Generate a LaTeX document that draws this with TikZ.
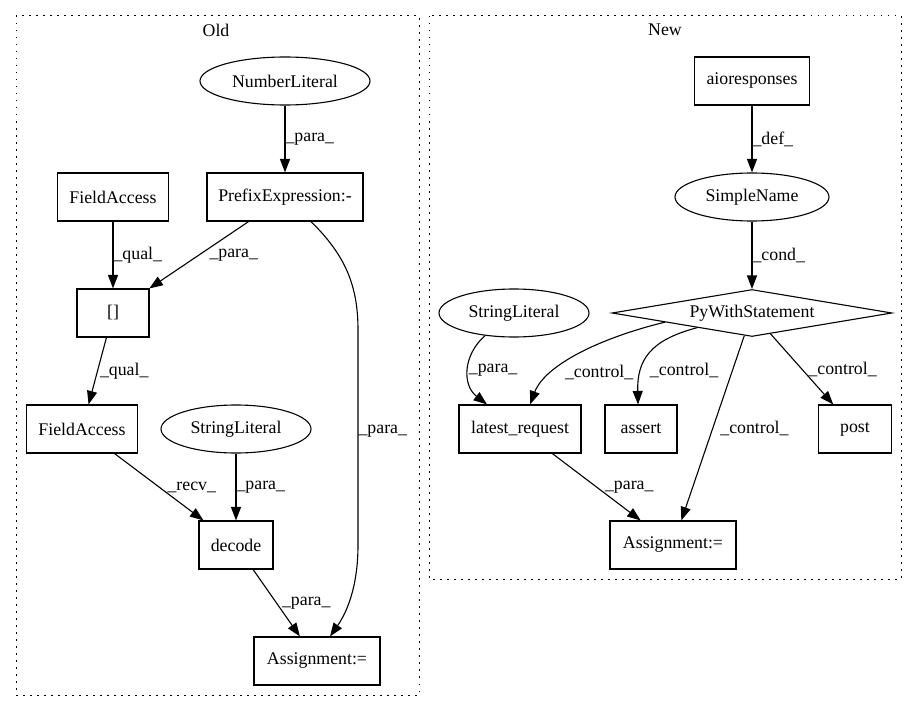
\documentclass[tikz,border=0pt]{standalone}
\usepackage{fontspec}
\setmainfont{Liberation Serif}
\usetikzlibrary{shapes.geometric,arrows.meta}
\tikzstyle{box}=[rectangle,draw,minimum height=48bp,inner sep=0pt]
\tikzstyle{oval}=[ellipse,draw,minimum height=48bp,inner sep=0pt]
\tikzstyle{cond}=[diamond,draw,minimum width=280bp,minimum height=47bp,inner sep=0pt,aspect=6]
\tikzstyle{lbl}=[anchor=west,inner sep=0pt]
\tikzstyle{cluster}=[line width=1bp,dash pattern=on 1.5bp off 5.5bp]

\begin{document}
\begin{tikzpicture}[x=1bp,y=-1bp,line width=1.1bp,>={Triangle[length=13.5bp,width=10bp]},font=\fontsize{17.8bp}{21bp}\selectfont]
\useasboundingbox (0,0) rectangle (917,712);
\draw[cluster] (16,16) rectangle (419,695);
\draw[cluster] (429,16) rectangle (901,579);
\node at (216, 30) (old) {Old};
\node at (665, 30) (new) {New};

\node[oval, minimum width=170bp] at (285, 81) (num) {NumberLiteral};
\node[box, minimum width=156bp] at (285, 197) (pre) {PrefixExpression:-};
\node[box, minimum width=111bp] at (113, 197) (fa1) {FieldAccess};
\node[box, minimum width=72bp] at (113, 313) (idx) {[]};
\node[box, minimum width=111bp] at (82, 429) (fa2) {FieldAccess};
\node[oval, minimum width=150bp] at (236, 429) (str1) {StringLiteral};
\node[box, minimum width=74bp] at (236, 545) (dec) {decode};
\node[box, minimum width=126bp] at (317, 661) (asg1) {Assignment:=};
\draw[->] (num) edge node[lbl] {\_para\_} (pre);
\draw[->] (fa1) edge node[lbl] {\_qual\_} (idx);
\draw[->] (pre) edge node[lbl, xshift=10bp] {\_para\_} (idx);
\draw[->] (idx) edge node[lbl, xshift=2bp] {\_qual\_} (fa2);
\draw[->] (fa2) edge node[lbl, xshift=8bp] {\_recv\_} (dec);
\draw[->] (str1) edge node[lbl] {\_para\_} (dec);
\draw[->] (dec) edge node[lbl, xshift=5bp] {\_para\_} (asg1);
\draw[->] ([xshift=26bp]pre.south) .. controls (345, 255) and (358, 285) .. (358, 330) -- node[lbl, pos=0.47] {\_para\_} (358, 545) .. controls (358, 590) and (345, 615) .. ([xshift=13bp]asg1.north);

\node[box, minimum width=115bp] at (752, 81) (aio) {aioresponses};
\node[oval, minimum width=154bp] at (752, 197) (sname) {SimpleName};
\node[cond] at (752, 313) (with) {PyWithStatement};
\node[oval, minimum width=150bp] at (514, 313) (str2) {StringLiteral};
\node[box, minimum width=122bp] at (520, 429) (req) {latest\_request};
\node[box, minimum width=72bp] at (641, 429) (ast) {assert};
\node[box, minimum width=73bp] at (855, 429) (post) {post};
\node[box, minimum width=126bp] at (673, 545) (asg2) {Assignment:=};
\draw[->] (aio) edge node[lbl] {\_def\_} (sname);
\draw[->] (sname) edge node[lbl] {\_cond\_} (with);
\draw[->] (str2.218) .. controls (463, 355) and (462, 385) .. node[lbl, pos=0.5] {\_para\_} ([xshift=-33bp]req.north);
\draw[->] (with.186) .. controls (600, 338) and (545, 365) .. node[lbl, pos=0.7, xshift=11bp] {\_control\_} ([xshift=10bp]req.north);
\draw[->] (with.195) .. controls (650, 340) and (637, 360) .. node[lbl, pos=0.7, xshift=8bp] {\_control\_} ([xshift=-3bp]ast.north);
\draw[->] (with) edge node[lbl, xshift=7bp] {\_control\_} (asg2);
\draw[->] (with) edge node[lbl, xshift=6bp] {\_control\_} (post);
\draw[->] (req) edge node[lbl, xshift=8bp] {\_para\_} (asg2);
\end{tikzpicture}
\end{document}
